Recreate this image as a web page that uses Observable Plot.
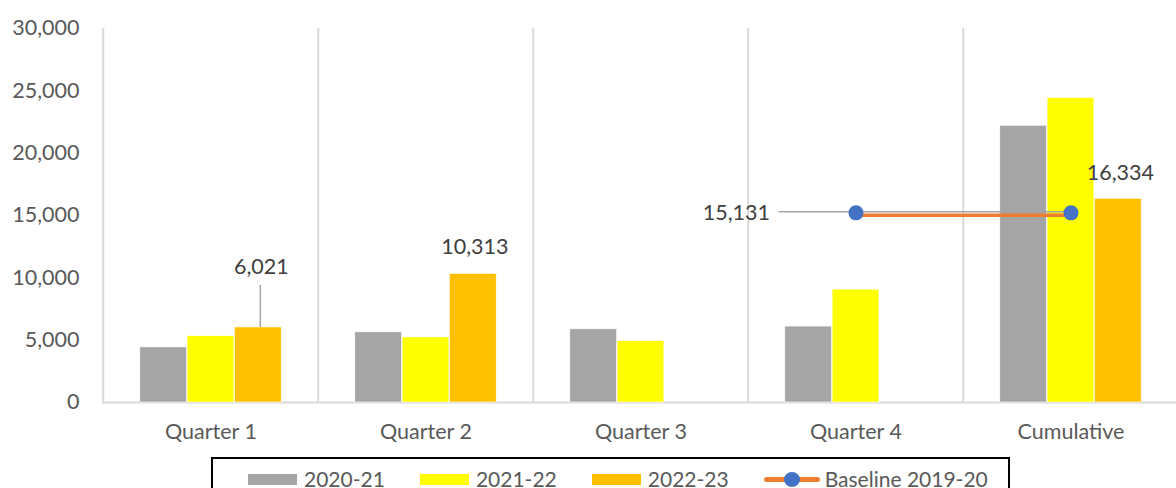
<!DOCTYPE html>
<html>
<head>
<meta charset="utf-8">
<script src="https://cdn.jsdelivr.net/npm/d3@7"></script>
<script src="https://cdn.jsdelivr.net/npm/@observablehq/plot@0.6"></script>
<style>
  html, body { margin: 0; padding: 0; background: white; }
  #wrap { position: relative; width: 1176px; height: 488px; overflow: hidden; font-family: Lato, sans-serif; }
  #legend { position: absolute; left: 211px; top: 457px; width: 799px; height: 44px; border: 2px solid #000; box-sizing: border-box;
    display: flex; align-items: flex-start; padding-top: 12px; padding-left: 35px; font-size: 21px; color: #595959; background: white; white-space: nowrap; }
  .item { display: flex; align-items: center; margin-right: 35px; height: 16px; line-height: 16px; flex-shrink: 0; }
  .sw { width: 49px; height: 11px; margin-right: 7px; flex-shrink: 0; }
  .lsw { position: relative; width: 56px; height: 15px; margin-right: 5px; flex-shrink: 0; }
  .lsw .ln { position: absolute; left: 0; right: 0; top: 5px; height: 5px; border-radius: 3px; background: #ed7d31; }
  .lsw .dt { position: absolute; left: 20px; top: 0; width: 16px; height: 15px; border-radius: 50%; background: #4472c4; }
</style>
</head>
<body>
<div id="wrap"><div id="chart"></div><div id="legend"></div></div>
<script>
const categories = ["Quarter 1", "Quarter 2", "Quarter 3", "Quarter 4", "Cumulative"];
const seriesNames = ["2020-21", "2021-22", "2022-23"];
const values2020 = [4420, 5630, 5870, 6090, 22200];
const values2021 = [5320, 5220, 4920, 9050, 24420];
const values2022 = [6021, 10313, null, null, 16334];
const baselineName = "Baseline 2019-20";
const baselineCategories = ["Quarter 4", "Cumulative"];
const baselineValue = 15131;
const yTicks = [0, 5000, 10000, 15000, 20000, 25000, 30000];
const seriesColors = ["#a5a5a5", "#ffff00", "#ffc000"];
const baselineColor = "#ed7d31";
const dotColor = "#4472c4";

const seriesValues = [values2020, values2021, values2022];
const rows = seriesValues.map((vals, s) =>
  categories.map((c, i) => ({category: c, series: seriesNames[s], value: vals[i]})).filter(d => d.value != null)
);
const baseline = baselineCategories.map(c => ({category: c, value: baselineValue}));

const bandW = 215.5;
const barW = 47.3;
const inset = (bandW - barW) / 2;
const fmt = d3.format(",");

const labelRows = rows[2];
const q1 = labelRows.filter(d => d.category === "Quarter 1");
const q2 = labelRows.filter(d => d.category === "Quarter 2");
const cum = labelRows.filter(d => d.category === "Cumulative");

const chart = Plot.plot({
  width: 1176,
  height: 456,
  marginTop: 28,
  marginBottom: 54,
  marginLeft: 102,
  marginRight: 0,
  style: {fontFamily: "Lato, sans-serif", fontSize: "21.5px", color: "#595959", background: "white", overflow: "visible"},
  x: {domain: categories, range: [102, 1179.5], padding: 0, label: null, tickSize: 0, tickPadding: 21},
  y: {domain: [0, 30000], ticks: yTicks, tickFormat: d3.format(","), label: null, tickSize: 0, tickPadding: 23},
  marks: [
    Plot.ruleX(categories, {x: d => d, dx: -bandW / 2, y1: 0, y2: 30000, stroke: "#d9d9d9", strokeWidth: 2}),
    Plot.ruleY([0], {stroke: "#d9d9d9", strokeWidth: 2}),
    ...rows.map((r, s) => Plot.barY(r, {
      x: "category", y: "value", fill: seriesColors[s],
      dx: (s - 1) * barW, insetLeft: inset, insetRight: inset,
      stroke: "white", strokeWidth: 0.6
    })),
    // leader for Q1 label
    Plot.ruleX(q1, {x: "category", y1: "value", y2: "value", dx: barW + 2, insetTop: -42, stroke: "#a5a5a5", strokeWidth: 1.5}),
    Plot.text(q1, {x: "category", y: "value", text: d => fmt(d.value), dx: barW + 3, dy: -60, fill: "#404040"}),
    Plot.text(q2, {x: "category", y: "value", text: d => fmt(d.value), dx: barW + 1.5, dy: -27, fill: "#404040"}),
    Plot.text(cum, {x: "category", y: "value", text: d => fmt(d.value), dx: barW + 2, dy: -26, fill: "#404040"}),
    // baseline
    Plot.line(baseline, {x: "category", y: "value", stroke: baselineColor, strokeWidth: 3.5, dy: 1.5}),
    Plot.ruleY([baseline[0]], {x1: () => baselineCategories[0], x2: () => baselineCategories[1], y: "value", dy: -2,
      insetLeft: 30.5, insetRight: bandW / 2, stroke: "#a5a5a5", strokeWidth: 1.5}),
    Plot.dot(baseline, {x: "category", y: "value", r: 7.5, fill: dotColor, dy: -1}),
    Plot.text([baseline[0]], {x: "category", y: "value", text: d => fmt(d.value), textAnchor: "end", dx: -86, dy: -1, fill: "#404040"})
  ]
});
document.getElementById("chart").appendChild(chart);

const legend = document.getElementById("legend");
seriesNames.forEach((name, s) => {
  const it = document.createElement("div");
  it.className = "item";
  it.innerHTML = `<div class="sw" style="background:${seriesColors[s]}"></div><span>${name}</span>`;
  legend.appendChild(it);
});
const bl = document.createElement("div");
bl.className = "item";
bl.innerHTML = `<div class="lsw"><div class="ln"></div><div class="dt"></div></div><span>${baselineName}</span>`;
legend.appendChild(bl);
</script>
</body>
</html>
